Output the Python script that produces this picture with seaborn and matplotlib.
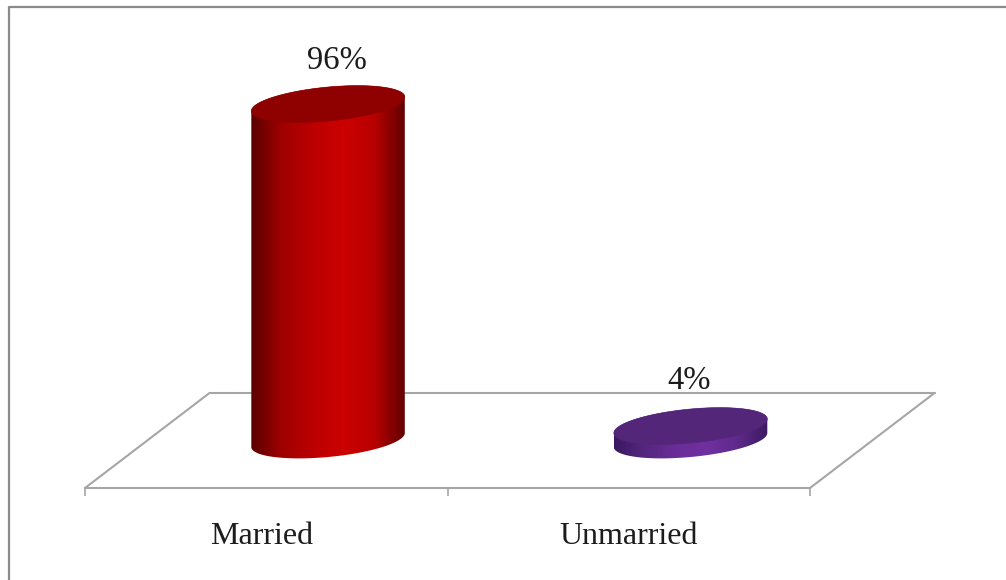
import numpy as np
import pandas as pd
import matplotlib
matplotlib.use("Agg")
import matplotlib.pyplot as plt
from matplotlib.colors import LinearSegmentedColormap
from matplotlib.lines import Line2D
from matplotlib.patches import Polygon
from matplotlib.transforms import ScaledTranslation
import seaborn as sns

categories = ["Married", "Unmarried"]
shares = [96, 4]
value_labels = ["96%", "4%"]

W, H, DPI = 1006, 580, 100
side_ramps = [["#5a0000", "#a00000", "#bb0000", "#cc0000", "#b80000", "#620000"],
              ["#3a1860", "#55267f", "#6a2d98", "#7030a0", "#5f2a8c", "#3c1a62"]]
cap_colors = ["#8f0000", "#54267a"]
bar_colors = ["#c00000", "#7030a0"]
label_nudge_px = [[9, -3], [-1, -1]]
category_nudge_px = [-5, 0]
GREY = "#a6a6a6"
TEXT = "#1c1c1c"

sns.set_theme(style="white")
plt.rcParams["font.family"] = ["Liberation Serif", "DejaVu Serif"]

fig = plt.figure(figsize=(W / DPI, H / DPI), dpi=DPI, facecolor="white")
left, right, floor_front = 85, 810, 488
ax = fig.add_axes([left / W, 1 - floor_front / H, (right - left) / W, floor_front / H])
ax.patch.set_alpha(0)

df = pd.DataFrame({"status": categories, "share": shares})
sns.barplot(data=df, x="status", y="share", hue="status", palette=bar_colors,
            width=0.4234, legend=False, ax=ax)

px_per_unit = 3.5
base_px = 440
ax.set_xlim(-0.5, 1.5)
ax.set_ylim(-(floor_front - base_px) / px_per_unit, base_px / px_per_unit)
ax.set_xlabel("")
ax.set_ylabel("")
ax.set_yticks([])

# axis: boundary ticks and centred category labels
ax.set_xticks([-0.5, 0.5, 1.5], labels=["", "", ""])
ax.set_xticks([0, 1], labels=categories, minor=True)
ax.tick_params(axis="x", which="major", bottom=True, length=5.8, width=1.2, color=GREY, direction="out")
ax.tick_params(axis="x", which="minor", bottom=False, length=0, pad=24.5, labelsize=23, labelcolor=TEXT)
for s in ["top", "left", "right"]:
    ax.spines[s].set_visible(False)
ax.spines["bottom"].set_color(GREY)
ax.spines["bottom"].set_linewidth(1.5)
for lab, dx in zip(ax.get_xticklabels(minor=True), category_nudge_px):
    lab.set_transform(lab.get_transform() + ScaledTranslation(dx / DPI, 0, fig.dpi_scale_trans))

# floor parallelogram
unit_x = (right - left) / 2
depth_dx, depth_dy = 124.5, 95
back_x = [-0.5 + depth_dx / unit_x, 1.5 + depth_dx / unit_x]
back_y = -(floor_front - base_px) / px_per_unit + depth_dy / px_per_unit
front_y = ax.get_ylim()[0]
for xs, ys in [(back_x, [back_y, back_y]),
               ([-0.5, back_x[0]], [front_y, back_y]),
               ([1.5, back_x[1]], [front_y, back_y])]:
    ax.plot(xs, ys, color=GREY, lw=1.5, clip_on=False, zorder=1, solid_capstyle="round")

# cylinders built on the seaborn bars, pushed to mid-depth of the floor
shift = ScaledTranslation(61.8 / DPI, 0, fig.dpi_scale_trans)
trans = ax.transData + shift
minor_u, tilt_u = 17.0 / px_per_unit, 7.0 / px_per_unit


def arc(cx, half, base, t):
    return np.column_stack([cx + half * np.cos(t),
                            base + minor_u * np.sin(t) + tilt_u * np.cos(t)])


for i, bar in enumerate(ax.patches[:2]):
    bar.set_alpha(0)
    cx = bar.get_x() + bar.get_width() / 2
    half = bar.get_width() / 2
    top = bar.get_height()
    lower = arc(cx, half, 0, np.linspace(np.pi, 2 * np.pi, 120))
    upper = arc(cx, half, top, np.linspace(0, np.pi, 120))
    body = Polygon(np.vstack([lower, upper]), closed=True, transform=trans,
                   facecolor="none", edgecolor="none")
    ax.add_patch(body)
    cmap = LinearSegmentedColormap.from_list(f"side{i}", side_ramps[i])
    im = ax.imshow(np.linspace(0, 1, 256)[None, :], cmap=cmap, aspect="auto", interpolation="bilinear",
                   extent=[cx - half, cx + half, -30, top + 30], zorder=3)
    im.set_transform(trans)
    im.set_clip_path(body)
    cap = Polygon(arc(cx, half, top, np.linspace(0, 2 * np.pi, 240)), closed=True, transform=trans,
                  facecolor=cap_colors[i], edgecolor=cap_colors[i], lw=0.4, zorder=4)
    ax.add_patch(cap)
    ax.annotate(value_labels[i], xy=(cx, top), xycoords=trans,
                xytext=(label_nudge_px[i][0] * 72 / DPI, (46 + label_nudge_px[i][1]) * 72 / DPI),
                textcoords="offset points",
                ha="center", va="center", fontsize=23.5, color=TEXT, zorder=5, annotation_clip=False)

ax.set_xlim(-0.5, 1.5)
ax.set_ylim(front_y, base_px / px_per_unit)

# chart frame, open towards the right and bottom edges of the crop
fx, fy = 9 / W, 1 - 7 / H
fig.add_artist(Line2D([fx, fx, 1], [0, fy, fy], transform=fig.transFigure,
                      color="#8a8a8a", lw=1.6))

fig.savefig("out.png", dpi=DPI, facecolor="white")
